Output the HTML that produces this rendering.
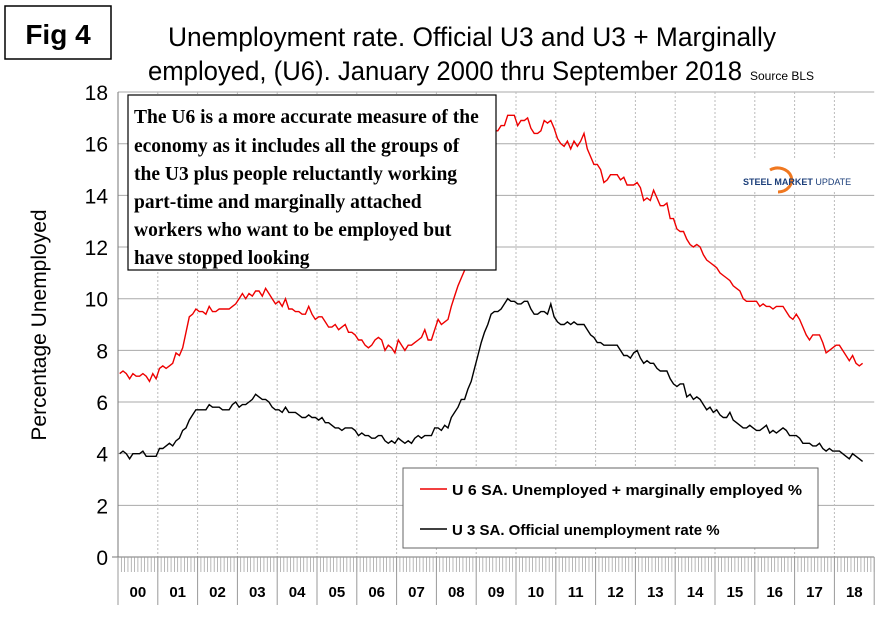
<!DOCTYPE html>
<html><head><meta charset="utf-8"><style>
body{margin:0;background:#fff;}
svg{display:block;font-family:"Liberation Sans",Arial,sans-serif;}
</style></head><body>
<svg id="s" width="882" height="622" viewBox="0 0 882 622" xmlns="http://www.w3.org/2000/svg">
<rect width="882" height="622" fill="#fff"/>
<rect x="5" y="6" width="106" height="53" fill="#fff" stroke="#000" stroke-width="1.5"/>
<text x="58" y="44" font-size="28" font-weight="bold" text-anchor="middle">Fig 4</text>
<text x="472" y="46" font-size="26.5" text-anchor="middle" textLength="608" lengthAdjust="spacingAndGlyphs">Unemployment rate. Official U3 and U3 + Marginally</text>
<text x="148" y="80" font-size="26.5" textLength="594" lengthAdjust="spacingAndGlyphs">employed, (U6). January 2000 thru September 2018</text>
<text x="750" y="80" font-size="12">Source BLS</text>
<text x="46" y="325" font-size="21" text-anchor="middle" transform="rotate(-90 46 325)">Percentage Unemployed</text>
<g id="grid"></g>
<g id="series"></g>
<rect x="128" y="95" width="368" height="175" fill="#fff" stroke="#000" stroke-width="1.2"/>
<g font-family="Liberation Serif,serif" font-weight="bold" font-size="19.5">
<text x="134" y="123">The U6 is a more accurate measure of the</text>
<text x="134" y="152">economy as it includes all the groups of</text>
<text x="134" y="180">the U3 plus people reluctantly working</text>
<text x="134" y="208">part-time and marginally attached</text>
<text x="134" y="236">workers who want to be employed but</text>
<text x="134" y="264">have stopped looking</text>
</g>
<g>
<rect x="742" y="160" width="118" height="30" fill="#fff"/>
<path d="M770 170 A14 12 0 1 1 778 192" fill="none" stroke="#f07820" stroke-width="3"/>
<text x="743" y="185" font-size="9" font-weight="bold" fill="#1c3f7a">STEEL MARKET <tspan font-weight="normal">UPDATE</tspan></text>
</g>
<rect x="403" y="468" width="415" height="80" fill="#fff" stroke="#666" stroke-width="1"/>
<line x1="420" y1="489" x2="447" y2="489" stroke="#e00" stroke-width="1.5"/>
<text x="452" y="495" font-size="15" font-weight="bold" textLength="350" lengthAdjust="spacingAndGlyphs">U 6 SA. Unemployed + marginally employed %</text>
<line x1="420" y1="529" x2="447" y2="529" stroke="#000" stroke-width="1.5"/>
<text x="452" y="535" font-size="15" font-weight="bold">U 3 SA. Official unemployment rate %</text>
</svg>
<script>
var u6=[7.1,7.2,7.1,6.9,7.1,7.0,7.0,7.1,7.0,6.8,7.1,6.9,7.3,7.4,7.3,7.4,7.5,7.9,7.8,8.1,8.7,9.3,9.4,9.6,9.5,9.5,9.4,9.7,9.5,9.5,9.6,9.6,9.6,9.6,9.7,9.8,10.0,10.2,10.0,10.2,10.1,10.3,10.3,10.1,10.4,10.2,10.0,9.8,9.9,9.7,10.0,9.6,9.6,9.5,9.5,9.4,9.4,9.7,9.4,9.2,9.3,9.3,9.1,8.9,8.9,9.0,8.8,8.9,9.0,8.7,8.7,8.6,8.4,8.4,8.2,8.1,8.2,8.4,8.5,8.4,8.0,8.2,8.1,7.9,8.4,8.2,8.0,8.2,8.2,8.3,8.4,8.5,8.8,8.4,8.4,8.8,9.2,9.0,9.1,9.2,9.7,10.1,10.5,10.8,11.1,11.8,12.6,13.6,14.2,15.2,15.8,15.9,16.4,16.5,16.5,16.7,16.7,17.1,17.1,17.1,16.7,16.9,16.9,17.0,16.6,16.4,16.4,16.5,16.9,16.8,16.9,16.6,16.2,16.0,15.9,16.1,15.8,16.1,15.9,16.1,16.4,15.8,15.5,15.2,15.2,15.0,14.5,14.6,14.8,14.8,14.8,14.6,14.7,14.4,14.4,14.4,14.5,14.3,13.8,13.9,13.8,14.2,13.9,13.6,13.6,13.7,13.1,13.1,12.7,12.6,12.6,12.3,12.1,12.0,12.1,12.0,11.7,11.5,11.4,11.3,11.2,11.0,10.9,10.8,10.7,10.5,10.4,10.3,10.0,9.9,9.9,9.9,9.9,9.7,9.8,9.7,9.7,9.6,9.7,9.7,9.7,9.5,9.3,9.2,9.4,9.2,8.9,8.6,8.4,8.6,8.6,8.6,8.3,7.9,8.0,8.1,8.2,8.2,8.0,7.8,7.6,7.8,7.5,7.4,7.5];
var u3=[4.0,4.1,4.0,3.8,4.0,4.0,4.0,4.1,3.9,3.9,3.9,3.9,4.2,4.2,4.3,4.4,4.3,4.5,4.6,4.9,5.0,5.3,5.5,5.7,5.7,5.7,5.7,5.9,5.8,5.8,5.8,5.7,5.7,5.7,5.9,6.0,5.8,5.9,5.9,6.0,6.1,6.3,6.2,6.1,6.1,6.0,5.8,5.7,5.7,5.6,5.8,5.6,5.6,5.6,5.5,5.4,5.4,5.5,5.4,5.4,5.3,5.4,5.2,5.2,5.1,5.0,5.0,4.9,5.0,5.0,5.0,4.9,4.7,4.8,4.7,4.7,4.6,4.6,4.7,4.7,4.5,4.4,4.5,4.4,4.6,4.5,4.4,4.5,4.4,4.6,4.7,4.6,4.7,4.7,4.7,5.0,5.0,4.9,5.1,5.0,5.4,5.6,5.8,6.1,6.1,6.5,6.8,7.3,7.8,8.3,8.7,9.0,9.4,9.5,9.5,9.6,9.8,10.0,9.9,9.9,9.8,9.8,9.9,9.9,9.6,9.4,9.4,9.5,9.5,9.4,9.8,9.3,9.1,9.0,9.0,9.1,9.0,9.1,9.0,9.0,9.0,8.8,8.6,8.5,8.3,8.3,8.2,8.2,8.2,8.2,8.2,8.0,7.8,7.8,7.7,7.9,8.0,7.7,7.5,7.6,7.5,7.5,7.3,7.2,7.2,7.2,6.9,6.7,6.6,6.7,6.7,6.2,6.3,6.1,6.2,6.1,5.9,5.7,5.8,5.6,5.7,5.5,5.4,5.4,5.6,5.3,5.2,5.1,5.0,5.0,5.1,5.0,4.9,4.9,5.0,5.1,4.8,4.9,4.8,4.9,5.0,4.9,4.7,4.7,4.7,4.6,4.4,4.4,4.4,4.3,4.3,4.4,4.2,4.1,4.2,4.1,4.1,4.1,4.0,3.9,3.8,4.0,3.9,3.8,3.7];
var X0=118,YW=39.8,Y0=557,K=25.83,R=X0+19*YW;
function px(i){return X0+(i+0.5)*YW/12}
function py(v){return Y0-v*K}
var g='';
for(var v=2;v<=18;v+=2)g+='<line x1="'+X0+'" y1="'+py(v)+'" x2="'+R+'" y2="'+py(v)+'" stroke="#aaa" stroke-width="1"/>';
for(var y=1;y<19;y++){var x=X0+y*YW;g+='<line x1="'+x+'" y1="92" x2="'+x+'" y2="'+Y0+'" stroke="#bbb" stroke-dasharray="2,2"/>';}
for(var v=0;v<=18;v+=2)g+='<text x="'+(X0-10)+'" y="'+(py(v)+8)+'" font-size="21" text-anchor="end">'+v+'</text>';
g+='<line x1="'+X0+'" y1="92" x2="'+X0+'" y2="605" stroke="#777"/>';
g+='<line x1="'+(X0-6)+'" y1="'+Y0+'" x2="'+R+'" y2="'+Y0+'" stroke="#777"/>';
for(var m=0;m<=228;m++){var x=X0+m*YW/12;g+='<line x1="'+x+'" y1="'+Y0+'" x2="'+x+'" y2="572" stroke="#999" stroke-width="0.7"/>';}
for(var y=0;y<=19;y++){var x=X0+y*YW;g+='<line x1="'+x+'" y1="'+Y0+'" x2="'+x+'" y2="605" stroke="#999"/>';
 if(y<19)g+='<text x="'+(x+YW/2)+'" y="597" font-size="15" font-weight="bold" text-anchor="middle">'+(y<10?'0'+y:y)+'</text>';}
document.getElementById('grid').innerHTML=g;
function path(a,c){var d='';for(var i=0;i<a.length;i++)d+=(i?'L':'M')+px(i).toFixed(1)+' '+py(a[i]).toFixed(1);return '<path d="'+d+'" fill="none" stroke="'+c+'" stroke-width="1.4"/>';}
document.getElementById('series').innerHTML=path(u6,'#e00')+path(u3,'#000');
</script>
</body></html>
